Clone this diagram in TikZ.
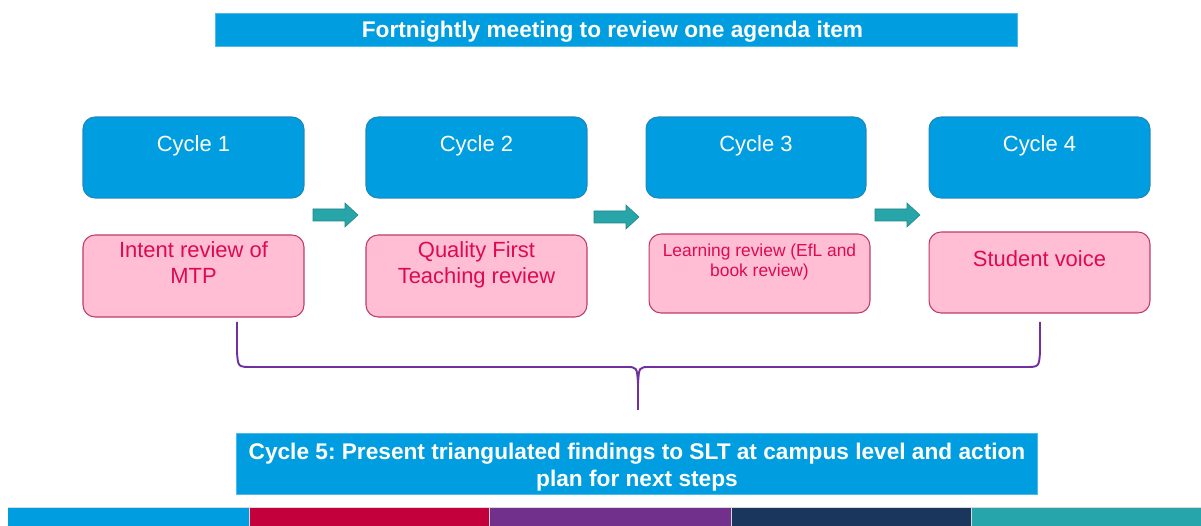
\documentclass[tikz,border=0pt]{standalone}
\usepackage{fontspec}
\setmainfont{Liberation Sans}
\frenchspacing
\definecolor{cblue}{RGB}{0,158,224}
\definecolor{cblueedge}{RGB}{30,135,190}
\definecolor{cpink}{RGB}{255,190,212}
\definecolor{cpinkedge}{RGB}{190,60,100}
\definecolor{cpinktext}{RGB}{222,10,80}
\definecolor{cteal}{RGB}{40,165,168}
\definecolor{cpurple}{RGB}{112,48,160}
\definecolor{scrimson}{RGB}{196,0,60}
\definecolor{spurple}{RGB}{112,48,140}
\definecolor{snavy}{RGB}{27,54,93}
\definecolor{steal}{RGB}{38,166,170}
\begin{document}
\begin{tikzpicture}[x=0.02cm,y=-0.02cm,
  bar/.style={fill=cblue,draw=cblue!70!white,line width=0.4pt,inner sep=0pt},
  bartext/.style={text=white,font=\fontsize{12.9}{15.9}\selectfont\bfseries,align=center,anchor=base,inner sep=0pt},
  bluebox/.style={fill=cblue,draw=cblueedge,line width=0.6pt,rounded corners=0.24cm,minimum width=4.42cm,minimum height=1.62cm,inner sep=0pt},
  pinkbox/.style={fill=cpink,draw=cpinkedge,line width=0.6pt,rounded corners=0.24cm,minimum width=4.42cm,inner sep=0pt},
  btext/.style={text=white,font=\fontsize{12.5}{15.3}\selectfont,anchor=base,inner sep=0pt},
  ptext/.style={text=cpinktext,font=\fontsize{12.5}{15.3}\selectfont,anchor=base,inner sep=0pt,align=center},
  stext/.style={text=cpinktext,font=\fontsize{9.9}{11.9}\selectfont,anchor=base,inner sep=0pt,align=center},
  tarrow/.style={fill=cteal,draw=cteal!80!black,line width=0.3pt},
  brace/.style={draw=cpurple,line width=1.1pt},
  stripe/.style={draw=white!85!black,line width=0.3pt}]
\useasboundingbox (0,0) rectangle (1201,526);
% top title bar
\node[bar,minimum width=16.04cm,minimum height=0.66cm] (title) at (616,29.5) {};
\node[bartext] (titlet) at (612.5,38) {Fortnightly meeting to review one agenda item};
% cycle boxes
\node[bluebox] (c1) at (193.5,157.5) {};
\node[bluebox] (c2) at (476.5,157.5) {};
\node[bluebox,minimum width=4.40cm] (c3) at (756,157.5) {};
\node[bluebox] (c4) at (1039.5,157.5) {};
\node[btext] (c1t) at (193.5,152) {Cycle 1};
\node[btext] (c2t) at (476.5,152) {Cycle 2};
\node[btext] (c3t) at (756,152) {Cycle 3};
\node[btext] (c4t) at (1039.5,152) {Cycle 4};
% pink boxes
\node[pinkbox,minimum height=1.64cm] (p1) at (193.5,276) {};
\node[pinkbox,minimum height=1.64cm] (p2) at (476.5,276) {};
\node[pinkbox,minimum height=1.58cm] (p3) at (759.5,273.5) {};
\node[pinkbox,minimum height=1.62cm] (p4) at (1039.5,272.5) {};
\node[ptext] (p1t) at (193.5,284) {Intent review of\\MTP};
\node[ptext] (p2t) at (476.5,284) {Quality First\\Teaching review};
\node[stext] (p3t) at (759.5,277) {Learning review (EfL and\\book review)};
\node[ptext] (p4t) at (1039.5,267) {Student voice};
% block arrows
\foreach \x/\y in {313/215, 594/217, 875/215}
  \draw[tarrow] (\x,\y-6) -- ++(32,0) -- ++(0,-6) -- ++(13,12) -- ++(-13,12) -- ++(0,-6) -- ++(-32,0) -- cycle;
% brace
\coordinate (bl) at (237,322);
\coordinate (br) at (1040,322);
\coordinate (bm) at (638,410);
\draw[brace] (bl) -- (237,352) .. controls (238,367) .. (252,367) -- (626,367) .. controls (637,367) .. (638,384) -- (bm);
\draw[brace] (br) -- (1040,352) .. controls (1039,367) .. (1025,367) -- (650,367) .. controls (639,367) .. (638,384);
% bottom box
\node[bar,minimum width=16.02cm,minimum height=1.22cm] (c5) at (636.5,463.5) {};
\node[bartext] (c5t) at (637,487) {Cycle 5: Present triangulated findings to SLT at campus level and action\\plan for next steps};
% bottom stripe
\fill[cblue] (8,507) rectangle (249,526);
\fill[scrimson] (249,507) rectangle (489,526);
\fill[spurple] (489,507) rectangle (731,526);
\fill[snavy] (731,507) rectangle (971,526);
\fill[steal] (971,507) rectangle (1201,526);
\draw[stripe] (8,507) -- (1201,507);
\foreach \x in {249,489,731,971} \draw[stripe] (\x,507) -- (\x,526);
\end{tikzpicture}
\end{document}
